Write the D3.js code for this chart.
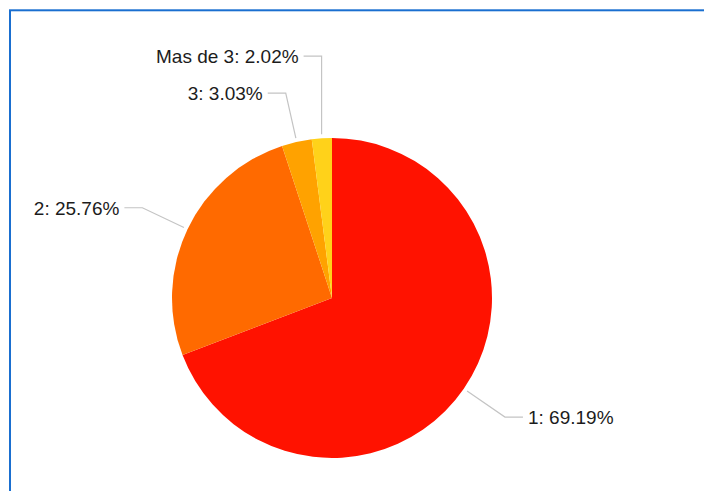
<!DOCTYPE html>
<html>
<head>
<meta charset="utf-8">
<script src="https://cdn.jsdelivr.net/npm/d3@7"></script>
<style>
  html, body { margin: 0; padding: 0; background: #ffffff; overflow: hidden; }
  svg { display: block; }
</style>
</head>
<body>
<svg id="chart" width="704" height="491"></svg>
<script>
// ---- data ----
const categories = ["1", "2", "3", "Mas de 3"];
const counts = [137, 51, 6, 4];
const percentLabels = ["69.19%", "25.76%", "3.03%", "2.02%"];
const sliceColors = ["#ff1200", "#ff6a00", "#ffa200", "#ffd21a"];

// ---- layout ----
const W = 704, H = 491;
const cx = 332, cy = 298, R = 160;
const startR = R + 4, elbowR = 210, hLen = 18, gap = 5, minSpacing = 37;

const svg = d3.select("#chart");

svg.append("rect")
  .attr("x", 10).attr("y", 10.3)
  .attr("width", W + 200).attr("height", H + 200)
  .attr("fill", "none")
  .attr("stroke", "#1a6fd0")
  .attr("stroke-width", 2);

const data = categories.map((c, i) => ({ cat: c, value: counts[i], label: c + ": " + percentLabels[i], color: sliceColors[i] }));

const pie = d3.pie().value(d => d.value).sort(null).startAngle(0).endAngle(2 * Math.PI);
const arcs = pie(data);
const arcGen = d3.arc().innerRadius(0).outerRadius(R);

const g = svg.append("g").attr("transform", `translate(${cx},${cy})`);

g.selectAll("path.slice")
  .data(arcs)
  .enter().append("path")
  .attr("class", "slice")
  .attr("d", arcGen)
  .attr("fill", d => d.data.color);

// label layout
const labels = arcs.map(a => {
  const m = (a.startAngle + a.endAngle) / 2;
  const sx = startR * Math.sin(m), sy = -startR * Math.cos(m);
  const ex = elbowR * Math.sin(m), ey = -elbowR * Math.cos(m);
  return { a, m, sx, sy, ex, ey, right: Math.sin(m) >= 0 };
});

// avoid overlap on each side: walk from bottom to top
["left", "right"].forEach(side => {
  const list = labels.filter(l => (side === "right") === l.right).sort((p, q) => q.ey - p.ey);
  for (let i = 1; i < list.length; i++) {
    const prev = list[i - 1], cur = list[i];
    if (prev.ey - cur.ey < minSpacing) {
      cur.ey = prev.ey - minSpacing;
      cur.ex = cur.sx;
    }
  }
});

labels.forEach(l => {
  const dir = l.right ? 1 : -1;
  const hx = l.ex + dir * hLen;
  g.append("polyline")
    .attr("points", [[l.sx, l.sy], [l.ex, l.ey], [hx, l.ey]].map(p => p.join(",")).join(" "))
    .attr("fill", "none")
    .attr("stroke", "#c4c4c4")
    .attr("stroke-width", 1.2);
  g.append("text")
    .attr("x", hx + dir * gap)
    .attr("y", l.ey + 7)
    .attr("text-anchor", l.right ? "start" : "end")
    .attr("font-family", "'Liberation Sans', Arial, Helvetica, sans-serif")
    .attr("font-size", 19)
    .attr("fill", "#1c1c1c")
    .text(l.a.data.label);
});
</script>
</body>
</html>
